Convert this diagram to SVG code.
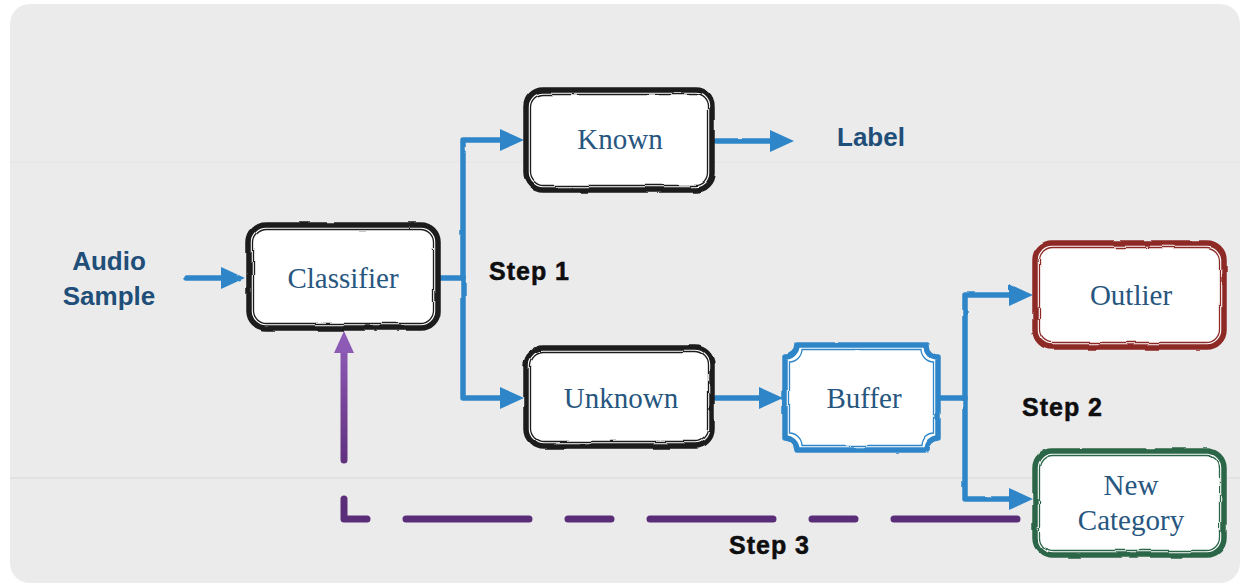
<svg xmlns="http://www.w3.org/2000/svg" width="1243" height="585" viewBox="0 0 1243 585">
  <style>
    .node-fill { fill: #ffffff; }
    .edge-outer { fill: none; stroke-width: 5.5; stroke-linejoin: round; }
    .edge-inner { fill: none; stroke-width: 1.3; }
    .dark { stroke: #1c1c1c; }
    .blue { stroke: #2f86c8; }
    .red { stroke: #8e2a26; }
    .green { stroke: #2b6646; }
    .node-text { font-family: "Liberation Serif", "Times New Roman", serif; font-size: 29px; fill: #27567f; text-anchor: middle; }
    .io-text { font-family: "Liberation Sans", Arial, sans-serif; font-weight: bold; font-size: 26px; fill: #1f4e79; text-anchor: middle; }
    .step-text { font-family: "Liberation Sans", Arial, sans-serif; font-weight: bold; font-size: 25px; fill: #0e0e0e; letter-spacing: 1px; stroke: #0e0e0e; stroke-width: 0.5px; }
    .flow { fill: none; stroke: #2f86c8; stroke-width: 5.5; stroke-linejoin: round; stroke-linecap: round; marker-end: url(#blueHead); }
    .feedback { fill: none; stroke: url(#purpleFade); stroke-width: 7; stroke-linecap: round; stroke-linejoin: round; stroke-dasharray: 123 39 43 39; marker-end: url(#purpleHead); }
  </style>
  <defs>
    <filter id="sketchy" x="-5%" y="-5%" width="110%" height="110%">
      <feTurbulence type="fractalNoise" baseFrequency="0.035" numOctaves="2" seed="4" result="noise"/>
      <feDisplacementMap in="SourceGraphic" in2="noise" scale="3" xChannelSelector="R" yChannelSelector="G"/>
    </filter>
    <filter id="wobble" x="-5%" y="-20%" width="110%" height="140%">
      <feTurbulence type="fractalNoise" baseFrequency="0.04" numOctaves="2" seed="9" result="noise"/>
      <feDisplacementMap in="SourceGraphic" in2="noise" scale="2" xChannelSelector="R" yChannelSelector="G"/>
    </filter>
    <marker id="blueHead" viewBox="0 0 24 22" markerWidth="24" markerHeight="22" refX="1" refY="11" orient="auto" markerUnits="userSpaceOnUse">
      <path d="M0,0 L24,11 L0,22 Z" fill="#2f86c8"/>
    </marker>
    <marker id="purpleHead" viewBox="0 0 22 20" markerWidth="22" markerHeight="20" refX="2" refY="10" orient="auto" markerUnits="userSpaceOnUse">
      <path d="M0,0 L22,10 L0,20 Z" fill="#8d5bb5"/>
    </marker>
    <linearGradient id="purpleFade" x1="0" y1="0" x2="0" y2="1">
      <stop offset="0" stop-color="#8a58b2"/>
      <stop offset="0.7" stop-color="#5e2f7c"/>
      <stop offset="1" stop-color="#5a2d78"/>
    </linearGradient>
  </defs>

  <!-- canvas -->
  <rect x="0" y="0" width="1243" height="585" fill="#ffffff"/>
  <rect x="10" y="4" width="1230" height="579" rx="20" fill="#ebebeb"/>
  <line x1="10" y1="162" x2="1240" y2="162" stroke="#e5e5e5" stroke-width="1"/>
  <line x1="10" y1="478" x2="1240" y2="478" stroke="#dadada" stroke-width="1.2"/>

  <!-- connectors -->
  <g id="connectors">
    <g filter="url(#wobble)">
      <path class="flow" d="M186,278 H222"/>
      <path class="flow" d="M440,278 H463 V140 H501"/>
      <path class="flow" d="M463,278 V398 H501"/>
      <path class="flow" d="M716,141 H771"/>
      <path class="flow" d="M716,398 H760"/>
      <path class="flow" d="M940,398 H965 V295 H1010"/>
      <path class="flow" d="M965,398 V499 H1010"/>
    </g>
    <path class="feedback" d="M1017,519 H344 V351"/>
  </g>

  <!-- inputs / outputs -->
  <g id="audio-sample">
    <text class="io-text" x="109" y="270">Audio</text>
    <text class="io-text" x="109" y="305">Sample</text>
  </g>
  <g id="label-output">
    <text class="io-text" x="871" y="146">Label</text>
  </g>

  <!-- step captions -->
  <g id="step-labels">
    <text class="step-text" x="489" y="280">Step 1</text>
    <text class="step-text" x="1022" y="416">Step 2</text>
    <text class="step-text" x="729" y="554">Step 3</text>
  </g>

  <!-- nodes -->
  <g id="classifier">
    <rect class="node-fill" x="249" y="225" width="189" height="103" rx="17"/>
    <g filter="url(#sketchy)">
      <rect class="edge-outer dark" x="249" y="225" width="189" height="103" rx="17"/>
      <rect class="edge-inner dark" x="253.5" y="229.5" width="180" height="94" rx="13"/>
    </g>
    <text class="node-text" x="343" y="288">Classifier</text>
  </g>

  <g id="known">
    <rect class="node-fill" x="526" y="90" width="186" height="100" rx="17"/>
    <g filter="url(#sketchy)">
      <rect class="edge-outer dark" x="526" y="90" width="186" height="100" rx="17"/>
      <rect class="edge-inner dark" x="530.5" y="94.5" width="177" height="91" rx="13"/>
    </g>
    <text class="node-text" x="620" y="149">Known</text>
  </g>

  <g id="unknown">
    <rect class="node-fill" x="526" y="348" width="186" height="98" rx="17"/>
    <g filter="url(#sketchy)">
      <rect class="edge-outer dark" x="526" y="348" width="186" height="98" rx="17"/>
      <rect class="edge-inner dark" x="530.5" y="352.5" width="177" height="89" rx="13"/>
    </g>
    <text class="node-text" x="621" y="408">Unknown</text>
  </g>

  <g id="buffer">
    <path class="node-fill" d="M797,345 H926 A12,12 0 0 0 938,357 V438 A12,12 0 0 0 926,450 H797 A12,12 0 0 0 785,438 V357 A12,12 0 0 0 797,345 Z"/>
    <g filter="url(#sketchy)">
      <path class="edge-outer blue" d="M797,345 H926 A12,12 0 0 0 938,357 V438 A12,12 0 0 0 926,450 H797 A12,12 0 0 0 785,438 V357 A12,12 0 0 0 797,345 Z"/>
      <path class="edge-inner blue" d="M802,349.5 H921 A13,13 0 0 0 933.5,362 V433 A13,13 0 0 0 921,445.5 H802 A13,13 0 0 0 789.5,433 V362 A13,13 0 0 0 802,349.5 Z"/>
    </g>
    <text class="node-text" x="864" y="408">Buffer</text>
  </g>

  <g id="outlier">
    <rect class="node-fill" x="1035" y="243" width="189" height="104" rx="17"/>
    <g filter="url(#sketchy)">
      <rect class="edge-outer red" x="1035" y="243" width="189" height="104" rx="17"/>
      <rect class="edge-inner red" x="1039.5" y="247.5" width="180" height="95" rx="13"/>
    </g>
    <text class="node-text" x="1131" y="305">Outlier</text>
  </g>

  <g id="new-category">
    <rect class="node-fill" x="1035" y="451" width="189" height="104" rx="17"/>
    <g filter="url(#sketchy)">
      <rect class="edge-outer green" x="1035" y="451" width="189" height="104" rx="17"/>
      <rect class="edge-inner green" x="1039.5" y="455.5" width="180" height="95" rx="13"/>
    </g>
    <text class="node-text" x="1131" y="495">New</text>
    <text class="node-text" x="1131" y="530">Category</text>
  </g>
</svg>
